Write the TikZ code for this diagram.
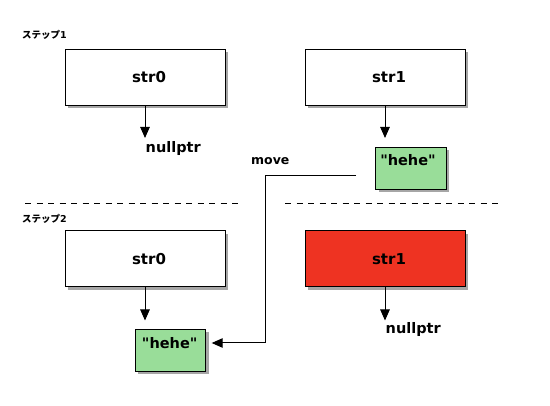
\documentclass[tikz,border=0pt]{standalone}
\usepackage{fontspec}
\setmainfont{DejaVu Sans}[Ligatures=TeXOff]
\newfontfamily\jpfont{Noto Sans CJK JP}
\usetikzlibrary{arrows.meta,shadows}
\definecolor{grn}{HTML}{99DD99}
\definecolor{redbox}{HTML}{EE3322}
\begin{document}
\begin{tikzpicture}[x=1pt,y=-1pt,
  shadowed/.style={drop shadow={shadow xshift=3pt,shadow yshift=-3pt,fill=black,opacity=0.35}},
  box/.style={shadowed,draw=black,line width=1pt,fill=white,rectangle,inner sep=0pt,
    minimum width=160pt,minimum height=56pt,font=\fontsize{15}{15}\selectfont\bfseries},
  valbox/.style={shadowed,draw=black,line width=1pt,fill=grn,rectangle,inner sep=0pt,
    minimum width=70.5pt,minimum height=42pt},
  lbl/.style={inner sep=0pt,font=\fontsize{14.5}{14.5}\selectfont\bfseries},
  smalllbl/.style={inner sep=0pt,font=\fontsize{12.5}{12.5}\selectfont\bfseries},
  steplbl/.style={inner sep=0pt,anchor=base west,font=\fontsize{9.5}{9.5}\selectfont\bfseries},
  arr/.style={draw=black,line width=1pt,-{Triangle[length=11pt,width=9.5pt]}},
  sep/.style={draw=black,line width=1pt,dash pattern=on 6pt off 5.5pt}
]
\useasboundingbox[fill=white] (0,0) rectangle (550,406);

% step labels
\node[steplbl] (st1) at (22,38.3) {{\jpfont ステップ}1};
\node[steplbl] (st2) at (22,222.3) {{\jpfont ステップ}2};

% step 1
\node[box] (s0a) at (145,77.3) {\hspace*{8pt}str0};
\node[box] (s1a) at (385,77.3) {\hspace*{8pt}str1};
\node[valbox] (h1) at (410.8,168.3) {};
\node[lbl,anchor=base] (h1t) at (408,166) {"hehe"};
\node[lbl,anchor=base west] (n1) at (145.5,152.3) {nullptr};
\coordinate (t1) at (145,138);
\coordinate (t2) at (385,138);
\draw[arr] (s0a.south) -- (t1);
\draw[arr] (s1a.south) -- (t2);

% separators
\coordinate (d1a) at (25,204);
\coordinate (d1b) at (241,204);
\coordinate (d2a) at (285,204);
\coordinate (d2b) at (501,204);
\draw[sep] (d1a) -- (d1b);
\draw[sep] (d2a) -- (d2b);

% step 2
\node[box] (s0b) at (145,259) {\hspace*{8pt}str0};
\node[box,fill=redbox] (s1b) at (385,259) {\hspace*{8pt}str1};
\node[valbox] (h2) at (170.5,350.4) {};
\node[lbl,anchor=base] (h2t) at (169.7,348.3) {"hehe"};
\node[lbl,anchor=base west] (n2) at (385.5,334) {nullptr};
\coordinate (t3) at (145,320.5);
\coordinate (t4) at (385,320.5);
\draw[arr] (s0b.south) -- (t3);
\draw[arr] (s1b.south) -- (t4);

% move
\node[smalllbl,anchor=base west] (mv) at (251,165) {move};
\coordinate (m0) at (356,176);
\coordinate (m1) at (265.7,176);
\coordinate (m2) at (265.7,343);
\coordinate (mt) at (211.7,343);
\draw[arr] (m0) -- (m1) -- (m2) -- (mt);
\end{tikzpicture}
\end{document}
